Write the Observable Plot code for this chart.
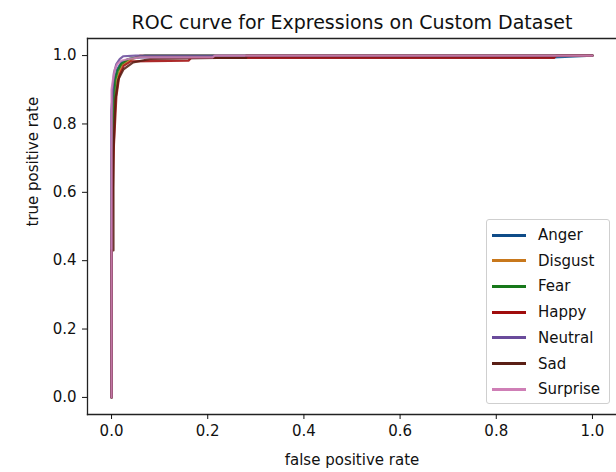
<!DOCTYPE html>
<html>
<head>
<meta charset="utf-8">
<script src="https://cdn.jsdelivr.net/npm/d3@7"></script>
<script src="https://cdn.jsdelivr.net/npm/@observablehq/plot@0.6"></script>
<style>
  html, body { margin: 0; padding: 0; background: #fff; }
  #wrap { position: relative; width: 616px; height: 472px; font-family: "DejaVu Sans", sans-serif; }
  #legend { position: absolute; left: 486px; top: 219px; width: 124px; height: 185px;
    border: 1px solid #cfcfcf; border-radius: 3px; background: rgba(255,255,255,0.85); box-sizing: border-box; }
  .row { position: absolute; left: 0; height: 20px; display: flex; align-items: center; font-size: 15px; color: #111; }
  .row span.ln { display: inline-block; width: 34px; height: 3px; margin-left: 5px; margin-right: 12px; }
</style>
</head>
<body>
<div id="wrap"></div>
<script>
const classes = ["Anger", "Disgust", "Fear", "Happy", "Neutral", "Sad", "Surprise"];
const colors  = ["#0f4c88", "#c8781c", "#17781a", "#a00c0c", "#6a4b9b", "#5a1f15", "#cf7fb6"];
const xTicks = [0, 0.2, 0.4, 0.6, 0.8, 1.0];
const yTicks = [0, 0.2, 0.4, 0.6, 0.8, 1.0];

const angerFpr    = [0, 0, 0.002, 0.006, 0.012, 0.02, 0.035, 0.06, 0.92, 1];
const angerTpr    = [0, 0.84, 0.88, 0.93, 0.96, 0.98, 0.99, 0.995, 0.995, 1];
const disgustFpr  = [0, 0, 0.004, 0.007, 0.012, 0.02, 0.035, 0.06, 1];
const disgustTpr  = [0, 0.55, 0.75, 0.86, 0.93, 0.97, 0.985, 1, 1];
const fearFpr     = [0, 0, 0.004, 0.008, 0.013, 0.02, 0.035, 0.07, 1];
const fearTpr     = [0, 0.68, 0.86, 0.93, 0.956, 0.975, 0.99, 1, 1];
const happyFpr    = [0, 0, 0.005, 0.01, 0.016, 0.025, 0.04, 0.16, 0.165, 0.92, 0.925, 1];
const happyTpr    = [0, 0.45, 0.74, 0.88, 0.94, 0.97, 0.983, 0.985, 0.993, 0.993, 1, 1];
const neutralFpr  = [0, 0, 0.002, 0.005, 0.01, 0.017, 0.024, 0.05, 1];
const neutralTpr  = [0, 0.82, 0.9, 0.95, 0.975, 0.99, 0.998, 1, 1];
const sadFpr      = [0, 0, 0.004, 0.004, 0.008, 0.014, 0.025, 0.045, 0.08, 0.22, 0.28, 0.28, 1];
const sadTpr      = [0, 0.43, 0.43, 0.72, 0.87, 0.93, 0.96, 0.98, 0.99, 0.993, 0.993, 1, 1];
const surpriseFpr = [0, 0, 0.003, 0.007, 0.012, 0.02, 0.035, 0.06, 0.21, 0.215, 1];
const surpriseTpr = [0, 0.9, 0.93, 0.96, 0.975, 0.985, 0.99, 0.995, 0.995, 1, 1];

const fprs = [angerFpr, disgustFpr, fearFpr, happyFpr, neutralFpr, sadFpr, surpriseFpr];
const tprs = [angerTpr, disgustTpr, fearTpr, happyTpr, neutralTpr, sadTpr, surpriseTpr];

const series = classes.map((c, i) => fprs[i].map((f, j) => ({cls: c, fpr: f, tpr: tprs[i][j]})));

const font = "DejaVu Sans, sans-serif";
const chart = Plot.plot({
  width: 616,
  height: 472,
  marginLeft: 87,
  marginRight: 0,
  marginTop: 38,
  marginBottom: 58,
  style: {fontFamily: font, fontSize: "15px", color: "#111", background: "#fff"},
  x: {domain: [-0.05, 1.05], axis: null},
  y: {domain: [-0.05, 1.05], axis: null},
  color: {domain: classes, range: colors},
  marks: [
    Plot.frame({anchor: "left", stroke: "#222", strokeWidth: 1.3}),
    Plot.frame({anchor: "top", stroke: "#222", strokeWidth: 1.3}),
    Plot.frame({anchor: "bottom", stroke: "#222", strokeWidth: 1.3}),
    Plot.axisX({ticks: xTicks, tickFormat: d3.format(".1f"), tickSize: 5, tickPadding: 6, label: null, fontSize: 15}),
    Plot.axisY({ticks: yTicks, tickFormat: d3.format(".1f"), tickSize: 5, tickPadding: 6, label: null, fontSize: 15}),
    ...series.map(s => Plot.line(s, {x: "fpr", y: "tpr", stroke: "cls", strokeWidth: 2.2, strokeOpacity: 0.88})),
    Plot.text(["ROC curve for Expressions on Custom Dataset"], {frameAnchor: "top", dy: -23, fontSize: 19, fill: "#111"}),
    Plot.text(["false positive rate"], {frameAnchor: "bottom", dy: 50, fontSize: 15, fill: "#111"}),
    Plot.text(["true positive rate"], {frameAnchor: "left", dx: -54, rotate: -90, fontSize: 15, fill: "#111"})
  ]
});

const wrap = document.getElementById("wrap");
wrap.appendChild(chart);

const legend = document.createElement("div");
legend.id = "legend";
classes.forEach((c, i) => {
  const row = document.createElement("div");
  row.className = "row";
  row.style.top = (5 + i * 25.7) + "px";
  const ln = document.createElement("span");
  ln.className = "ln";
  ln.style.background = colors[i];
  const t = document.createElement("span");
  t.textContent = c;
  row.appendChild(ln);
  row.appendChild(t);
  legend.appendChild(row);
});
wrap.appendChild(legend);
</script>
</body>
</html>
